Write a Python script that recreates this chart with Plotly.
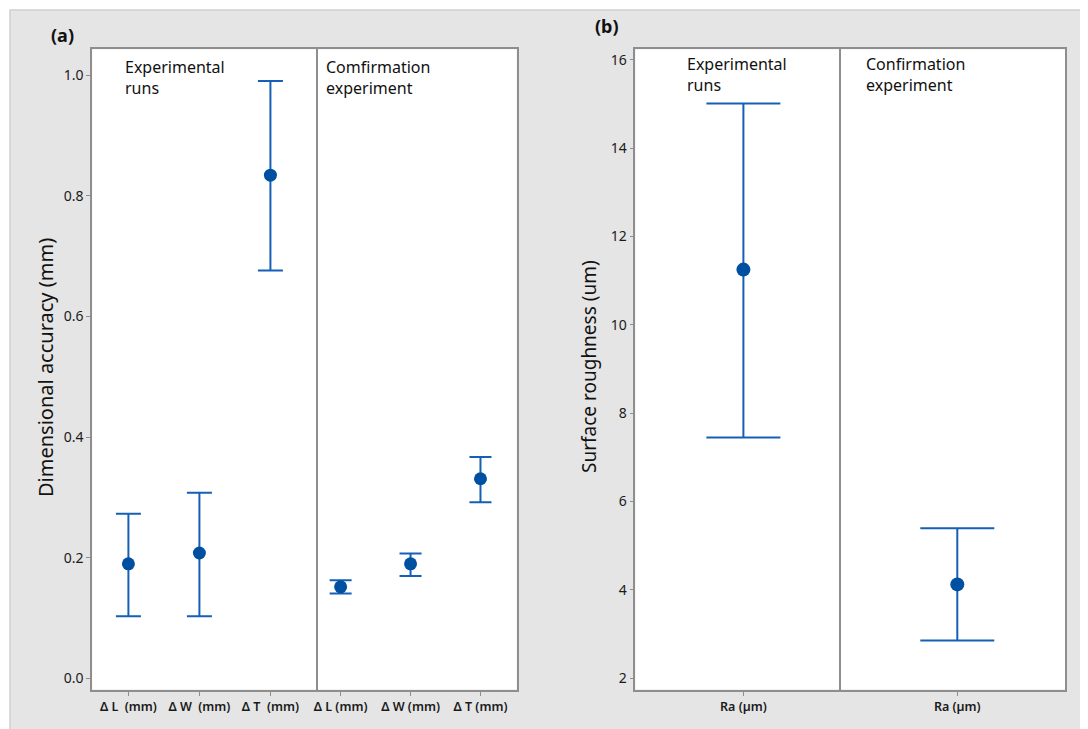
import plotly.graph_objects as go

W, H = 1088, 729
OFF = 8  # browser body margin

# ---------------- data ----------------
exp_cats_a = ["Δ L  (mm)", "Δ W  (mm)", "Δ T  (mm)"]
exp_mean_a = [0.190, 0.208, 0.834]
exp_upper_a = [0.273, 0.308, 0.990]
exp_lower_a = [0.103, 0.103, 0.676]

conf_cats_a = ["Δ L (mm)", "Δ W (mm)", "Δ T (mm)"]
conf_mean_a = [0.152, 0.190, 0.331]
conf_upper_a = [0.163, 0.207, 0.367]
conf_lower_a = [0.141, 0.170, 0.292]

exp_cats_b = ["Ra (µm)"]
exp_mean_b = [11.25]
exp_upper_b = [15.01]
exp_lower_b = [7.45]

conf_cats_b = ["Ra (µm)"]
conf_mean_b = [4.12]
conf_upper_b = [5.39]
conf_lower_b = [2.85]

yticks_a = [0.0, 0.2, 0.4, 0.6, 0.8, 1.0]
yticks_b = [2, 4, 6, 8, 10, 12, 14, 16]

# ---------------- style ----------------
FONT = "Noto Sans"
MARK = "#0050a2"
BAR = "#1560b6"
FRAME = "#8e8e8e"
BG = "#e5e5e5"


def px_x(p):
    return (p - OFF) / W


def px_y(p):
    return 1 - (p - OFF) / H


def trace(cats, mean, upper, lower, xa, ya, capw, msize):
    return go.Scatter(
        x=cats, y=mean, mode="markers", xaxis=xa, yaxis=ya,
        marker=dict(color=MARK, size=msize),
        error_y=dict(type="data", symmetric=False,
                     array=[u - m for u, m in zip(upper, mean)],
                     arrayminus=[m - l for m, l in zip(mean, lower)],
                     color=BAR, thickness=2, width=capw),
        showlegend=False, hoverinfo="x+y",
    )


fig = go.Figure()
fig.add_trace(trace(exp_cats_a, exp_mean_a, exp_upper_a, exp_lower_a, "x", "y", 12.5, 13))
fig.add_trace(trace(conf_cats_a, conf_mean_a, conf_upper_a, conf_lower_a, "x2", "y2", 11, 13))
fig.add_trace(trace(exp_cats_b, exp_mean_b, exp_upper_b, exp_lower_b, "x3", "y3", 37, 14))
fig.add_trace(trace(conf_cats_b, conf_mean_b, conf_upper_b, conf_lower_b, "x4", "y4", 37, 14))

top, bot = 49.3, 689.5
ydom = [px_y(bot), px_y(top)]

xcommon = dict(type="category", showline=True, linecolor=FRAME, linewidth=1.5,
               mirror=True, ticks="outside", ticklen=5, tickcolor=FRAME,
               showgrid=False, zeroline=False, automargin=False,
               tickfont=dict(family=FONT, size=12.5, color="#1a1a1a", weight=600))
ycommon = dict(showline=True, linecolor=FRAME, linewidth=1.5, mirror=True,
               ticks="outside", ticklen=4, tickcolor=FRAME, showgrid=False,
               zeroline=False, automargin=False,
               tickfont=dict(family=FONT, size=14, color="#1a1a1a"))
yright = dict(ycommon, mirror=False, side="right", showticklabels=False, ticks="")

fig.update_layout(
    width=W, height=H,
    margin=dict(l=0, r=0, t=0, b=0),
    paper_bgcolor=BG, plot_bgcolor="white",
    font=dict(family=FONT, color="#1a1a1a"),
    xaxis=dict(xcommon, domain=[px_x(92.2), px_x(316)], range=[-0.51, 2.642], anchor="y"),
    xaxis2=dict(xcommon, domain=[px_x(316), px_x(516.7)], range=[-0.352, 2.518], anchor="y2"),
    xaxis3=dict(xcommon, domain=[px_x(635.4), px_x(839.2)], range=[-1.08, 0.958], anchor="y3"),
    xaxis4=dict(xcommon, domain=[px_x(839.2), px_x(1065)], range=[-1.18, 1.076], anchor="y4"),
    yaxis=dict(ycommon, domain=ydom, range=[-0.0182, 1.0426], tickvals=yticks_a,
               tickformat=".1f", anchor="x"),
    yaxis2=dict(yright, domain=ydom, matches="y", anchor="x2"),
    yaxis3=dict(ycommon, domain=ydom, range=[1.74, 16.24], tickvals=yticks_b, anchor="x3"),
    yaxis4=dict(yright, domain=ydom, matches="y3", anchor="x4"),
)

# white outer strips (top / left) and light border of the gray panel
fig.add_shape(type="rect", xref="paper", yref="paper", layer="below",
              x0=px_x(0), x1=px_x(1100), y0=px_y(10), y1=px_y(0),
              fillcolor="white", line=dict(width=0))
fig.add_shape(type="rect", xref="paper", yref="paper", layer="below",
              x0=px_x(0), x1=px_x(10), y0=px_y(740), y1=px_y(0),
              fillcolor="white", line=dict(width=0))
fig.add_shape(type="rect", xref="paper", yref="paper", layer="below",
              x0=px_x(10), x1=px_x(1100), y0=px_y(740), y1=px_y(10),
              fillcolor="rgba(0,0,0,0)", line=dict(color="#d0d0d0", width=1.5))

ann = []


def text(x, y, s, size=15, bold=False, angle=0, xa="left", ya="top"):
    ann.append(dict(x=px_x(x), y=px_y(y), xref="paper", yref="paper", text=s,
                    showarrow=False, xanchor=xa, yanchor=ya, textangle=angle,
                    align="left",
                    font=dict(family=FONT, size=size, color="#111111",
                              weight=700 if bold else 400)))


text(49, 21, "(a)", size=18, bold=True)
text(593, 12, "(b)", size=18, bold=True)
text(123, 54, "Experimental<br>runs", size=16)
text(324, 54, "Comfirmation<br>experiment", size=16)
text(685, 51, "Experimental<br>runs", size=16)
text(864, 51, "Confirmation<br>experiment", size=16)
text(45, 368, "Dimensional accuracy (mm)", size=20, angle=-90, xa="center", ya="middle")
text(589, 367, "Surface roughness (um)", size=19, angle=-90, xa="center", ya="middle")
fig.update_layout(annotations=ann)

fig.write_html("out.html")
